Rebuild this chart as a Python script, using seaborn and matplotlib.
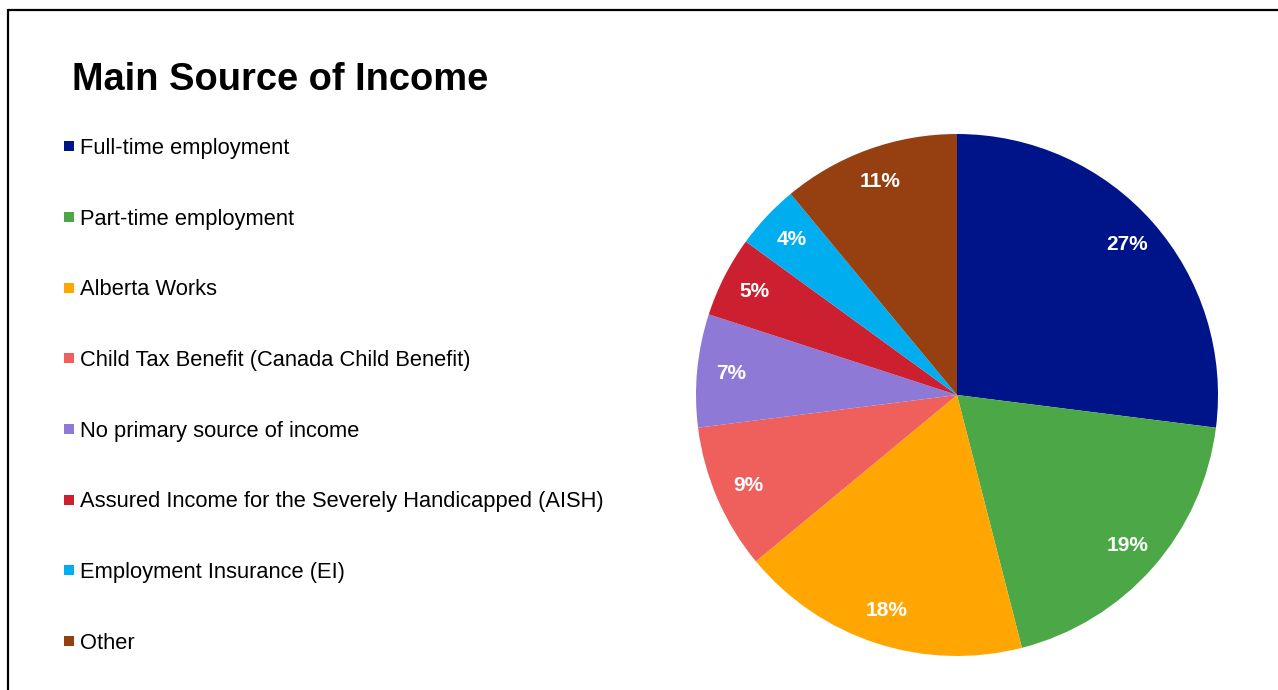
import matplotlib
matplotlib.use("Agg")
import matplotlib.pyplot as plt
from matplotlib.lines import Line2D
import seaborn as sns

sns.set_theme(style="white")
plt.rcParams["font.family"] = ["Liberation Sans", "DejaVu Sans"]
plt.rcParams["text.color"] = "black"

categories = [
    "Full-time employment",
    "Part-time employment",
    "Alberta Works",
    "Child Tax Benefit (Canada Child Benefit)",
    "No primary source of income",
    "Assured Income for the Severely Handicapped (AISH)",
    "Employment Insurance (EI)",
    "Other",
]
shares = [27, 19, 18, 9, 7, 5, 4, 11]
colors = sns.color_palette([
    "#001489", "#4CA847", "#FFA602", "#EF5F5B",
    "#8E79D6", "#CC2030", "#00AEEF", "#964012",
])

W, H = 1278, 690
fig = plt.figure(figsize=(W / 100, H / 100), dpi=100)
fig.patch.set_facecolor("white")

# pie axes: centre (957, 395) px, radius 261 px
cx, cy, r = 957, 395, 261
ax = fig.add_axes([(cx - r) / W, (H - cy - r) / H, 2 * r / W, 2 * r / H])
wedges, _, autotexts = ax.pie(
    shares, colors=colors, startangle=90, counterclock=False,
    autopct=lambda p: f"{p:.0f}%", pctdistance=0.87,
    wedgeprops=dict(linewidth=0),
    textprops=dict(color="white", fontsize=15, fontweight="bold"),
)
ax.set_xlim(-1, 1)
ax.set_ylim(-1, 1)
ax.set_aspect("equal")
ax.axis("off")

# title
fig.text(72 / W, 1 - 80.5 / H, "Main Source of Income", fontsize=27.4,
         fontweight="bold", ha="left", va="center", color="black")

# legend
handles = [Line2D([], [], marker="s", linestyle="none", markersize=7.4,
                  markerfacecolor=c, markeredgewidth=0) for c in colors]
fig.legend(handles, categories, loc="upper left",
           bbox_to_anchor=(62 / W, 1 - 138 / H), frameon=False,
           fontsize=15.75, labelcolor="black", handlelength=0.6,
           handletextpad=0.22, labelspacing=2.27, borderpad=0,
           borderaxespad=0)

# outer frame lines (top and left)
fig.add_artist(Line2D([8 / W, 1], [1 - 10 / H, 1 - 10 / H],
                      transform=fig.transFigure, color="black", linewidth=1.6))
fig.add_artist(Line2D([8 / W, 8 / W], [0, 1 - 10 / H],
                      transform=fig.transFigure, color="black", linewidth=1.6))

fig.savefig("out.png", dpi=100, facecolor="white")
